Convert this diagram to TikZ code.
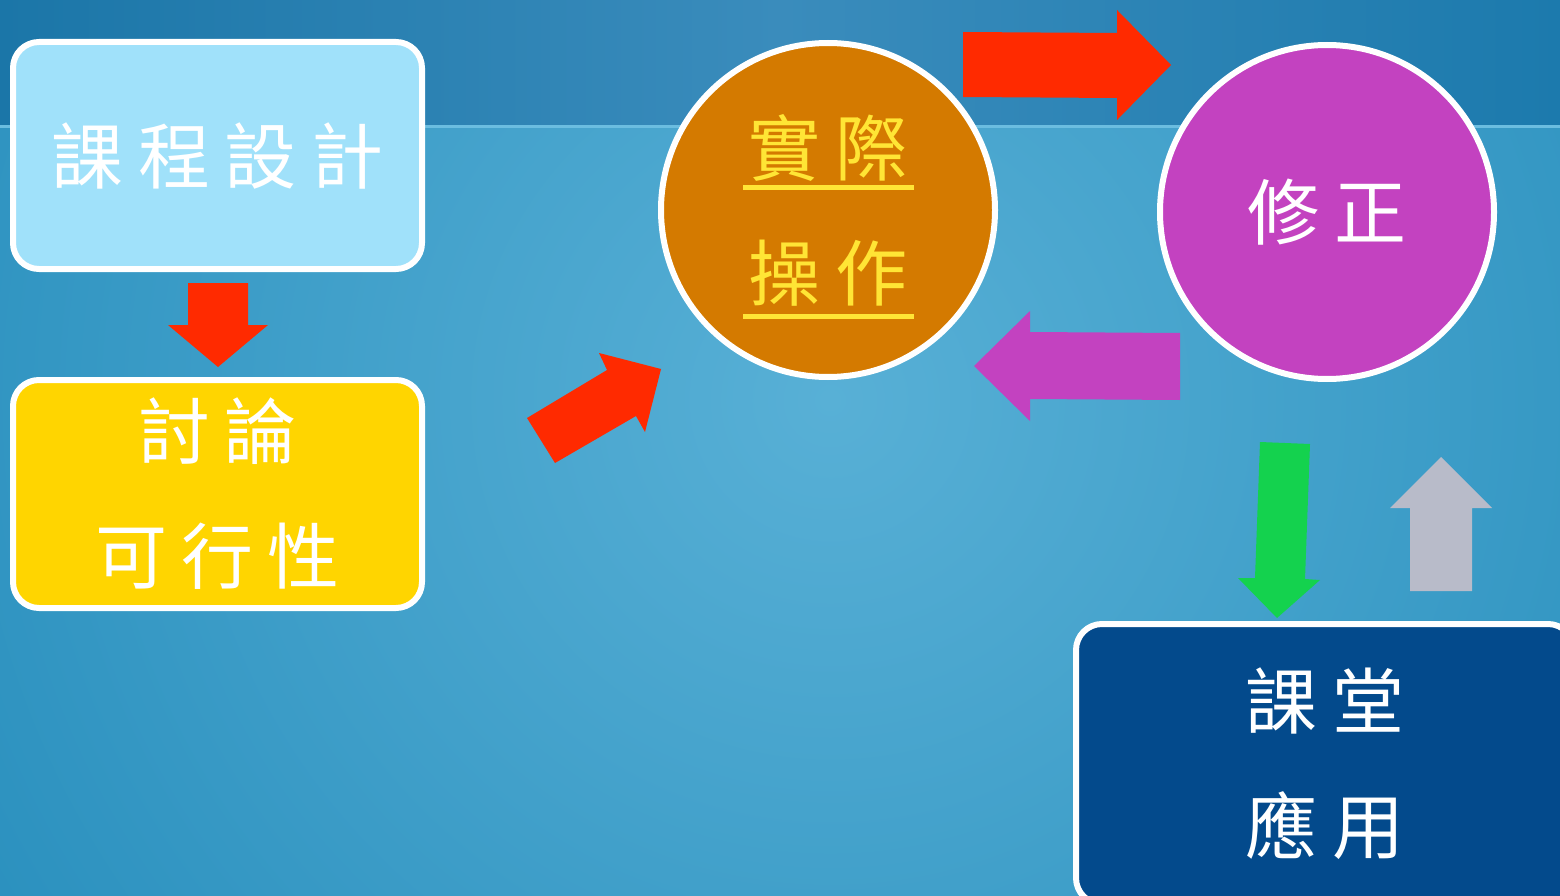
\documentclass[tikz,border=0pt]{standalone}
\usepackage{fontspec}
\newfontfamily\cjk[LetterSpace=20]{Noto Sans CJK TC}
\usetikzlibrary{shapes.geometric}
\definecolor{bgtopL}{HTML}{1B76A8}
\definecolor{bgtopM}{HTML}{3A8CBC}
\definecolor{bgtopR}{HTML}{1C7AAD}
\definecolor{bgin}{HTML}{58B0D6}
\definecolor{bgout}{HTML}{1380B2}
\definecolor{sepline}{HTML}{6BBDE0}
\definecolor{skybox}{HTML}{A0E1FA}
\definecolor{goldbox}{HTML}{FFD500}
\definecolor{orangec}{HTML}{D47A00}
\definecolor{yellowt}{HTML}{FFE535}
\definecolor{purplec}{HTML}{C342C0}
\definecolor{redarr}{HTML}{FF2A00}
\definecolor{greenarr}{HTML}{14D24E}
\definecolor{grayarr}{HTML}{B8BBC9}
\definecolor{navybox}{HTML}{034A8C}
\begin{document}
\begin{tikzpicture}[x=1pt,y=-1pt,
  box/.style={draw=white, line width=6pt, rounded corners=26pt, inner sep=0pt},
  blob/.style={ellipse, draw=white, line width=6pt, inner sep=0pt, minimum width=334pt, minimum height=334pt},
  lbl/.style={font=\cjk\fontsize{72}{125}\selectfont, align=center},
  ulline/.style={draw=yellowt, line width=5pt}]
\useasboundingbox (0,0) rectangle (1560,896);
% background
\begin{scope}
  \clip (0,0) rectangle (1560,896);
  \shade[inner color=bgin, outer color=bgout] (830,400) circle (1500);
  \shade[left color=bgtopL, right color=bgtopR, middle color=bgtopM] (0,0) rectangle (1560,127);
  \draw[sepline, line width=3pt] (0,127) -- (1560,127);
\end{scope}
% nodes
\node[box, fill=skybox, minimum width=409pt, minimum height=227pt, lbl, text=white] (design) at (217.5,155.5) {課程設計};
\node[box, fill=goldbox, minimum width=409pt, minimum height=228pt, lbl, text=white] (discuss) at (217.5,494) {討論\\可行性};
\node[blob, fill=orangec, lbl, text=yellowt] (practice) at (828,210) {實際\\操作};
\node[blob, fill=purplec, lbl, text=white] (revise) at (1327,212) {修正};
\node[box, fill=navybox, minimum width=498pt, minimum height=280pt, lbl, text=white] (apply) at (1325,764) {課堂\\應用};
% underlines
\draw[ulline] ([shift={(-85,-22)}]practice.center) -- ([shift={(86,-22)}]practice.center);
\draw[ulline] ([shift={(-85,106)}]practice.center) -- ([shift={(86,106)}]practice.center);
% block arrows
\fill[redarr] (188,283) -- (248,283) -- (248,325) -- (268,325) -- (218,367) -- (168,325) -- (188,325) -- cycle;
\fill[redarr] (527,418) -- (607,370) -- (599,353) -- (661,369) -- (645,432) -- (636,416) -- (555,463) -- cycle;
\fill[redarr] (963,32) -- (1117,33) -- (1117,10) -- (1171,65) -- (1117,120) -- (1117,98) -- (963,97) -- cycle;
\fill[purplec] (1180,333) -- (1030,332) -- (1030,311) -- (974,366) -- (1030,421) -- (1030,399) -- (1180,400) -- cycle;
\fill[greenarr] (1260,442) -- (1310,444) -- (1305,579) -- (1320,580) -- (1277,618) -- (1238,578) -- (1255,578) -- cycle;
\fill[grayarr] (1410,591) -- (1472,591) -- (1472,508) -- (1492,508) -- (1441,457) -- (1390,508) -- (1410,508) -- cycle;
\end{tikzpicture}
\end{document}
